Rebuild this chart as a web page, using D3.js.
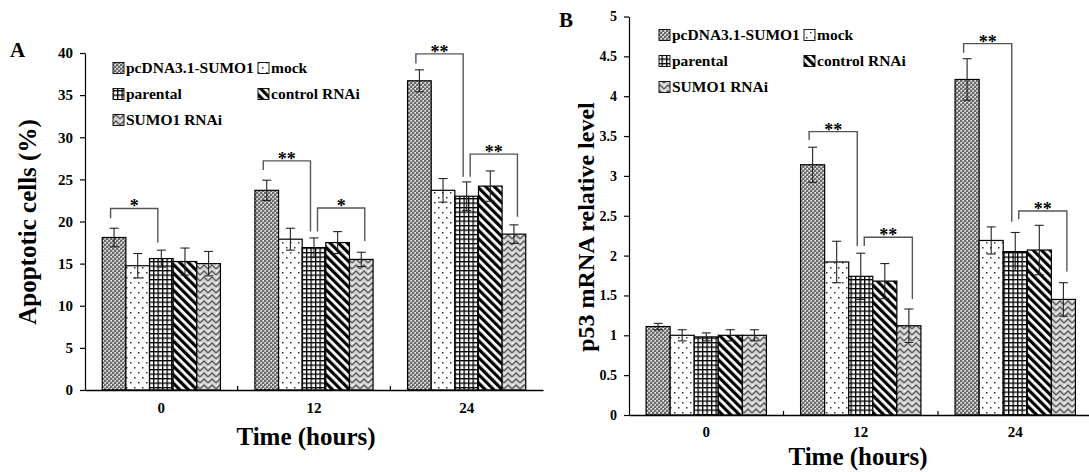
<!DOCTYPE html>
<html>
<head>
<meta charset="utf-8">
<script src="https://cdn.jsdelivr.net/npm/d3@7/dist/d3.min.js"></script>
<style>
  body { margin: 0; background: #fff; }
  svg text { font-family: "Liberation Serif", "Times New Roman", serif; font-weight: bold; }
</style>
</head>
<body>
<div id="chart"></div>
<script>
var groups = ["0", "12", "24"];
var series = ["pcDNA3.1-SUMO1", "mock", "parental", "control RNAi", "SUMO1 RNAi"];

// panel A, apoptotic cells (%) - one row per time point, one value per series
var apopt_mean = [
  [18.1, 14.75, 15.6, 15.25, 15.0],
  [23.7, 17.9, 16.9, 17.5, 15.5],
  [36.7, 23.7, 23.0, 24.2, 18.5]
];
var apopt_err = [
  [1.1, 1.45, 1.0, 1.6, 1.45],
  [1.2, 1.3, 1.15, 1.3, 0.85],
  [1.3, 1.4, 1.7, 1.8, 1.1]
];
// [group, from series, to series, bracket top, left leg end, right leg end, mark]
var apopt_sig = [
  [0, 0, 2, 21.55, 20.4, 17.5, "*"],
  [1, 0, 2, 27.2, 26.1, 18.8, "**"],
  [1, 2, 4, 21.6, 18.8, 17.7, "*"],
  [2, 0, 2, 39.9, 38.75, 25.3, "**"],
  [2, 2, 4, 28.0, 25.3, 20.55, "**"]
];
var apopt_ticks = [0, 5, 10, 15, 20, 25, 30, 35, 40];

// panel B, p53 mRNA relative level
var p53_mean = [
  [1.11, 1.0, 0.98, 1.0, 1.0],
  [3.14, 1.92, 1.74, 1.68, 1.12],
  [4.21, 2.19, 2.05, 2.07, 1.45]
];
var p53_err = [
  [0.04, 0.07, 0.05, 0.07, 0.07],
  [0.22, 0.26, 0.29, 0.22, 0.21],
  [0.26, 0.17, 0.24, 0.31, 0.21]
];
var p53_sig = [
  [1, 0, 2, 3.555, 3.45, 2.12, "**"],
  [1, 2, 4, 2.23, 2.12, 1.455, "**"],
  [2, 0, 2, 4.66, 4.545, 2.425, "**"],
  [2, 2, 4, 2.56, 2.455, 1.80, "**"]
];
var p53_ticks = [0, 0.5, 1, 1.5, 2, 2.5, 3, 3.5, 4, 4.5, 5];

var pattern_ids = ["pat-weave", "pat-dots", "pat-grid", "pat-stripe", "pat-zigzag"];

function add_patterns(defs)
{
  var p = defs.append("pattern").attr("id", "pat-weave")
    .attr("patternUnits", "userSpaceOnUse").attr("width", 4).attr("height", 4);
  p.append("rect").attr("width", 4).attr("height", 4).attr("fill", "#b4b4b4");
  p.append("rect").attr("x", 0).attr("y", 0).attr("width", 2).attr("height", 2).attr("fill", "#6a6a6a");
  p.append("rect").attr("x", 2).attr("y", 2).attr("width", 2).attr("height", 2).attr("fill", "#6a6a6a");
  p.append("rect").attr("x", 3).attr("y", 0).attr("width", 1).attr("height", 1).attr("fill", "#fff");
  p.append("rect").attr("x", 1).attr("y", 2).attr("width", 1).attr("height", 1).attr("fill", "#fff");

  p = defs.append("pattern").attr("id", "pat-dots")
    .attr("patternUnits", "userSpaceOnUse").attr("width", 8).attr("height", 10);
  p.append("rect").attr("width", 8).attr("height", 10).attr("fill", "#fff");
  p.append("rect").attr("x", 2).attr("y", 2).attr("width", 1.5).attr("height", 1.5).attr("fill", "#333");
  p.append("rect").attr("x", 6).attr("y", 7).attr("width", 1.5).attr("height", 1.5).attr("fill", "#333");

  p = defs.append("pattern").attr("id", "pat-grid")
    .attr("patternUnits", "userSpaceOnUse").attr("width", 4.5).attr("height", 4.5);
  p.append("rect").attr("width", 4.5).attr("height", 4.5).attr("fill", "#fff");
  p.append("rect").attr("width", 1.3).attr("height", 4.5).attr("fill", "#000");
  p.append("rect").attr("width", 4.5).attr("height", 1.3).attr("fill", "#000");

  p = defs.append("pattern").attr("id", "pat-stripe")
    .attr("patternUnits", "userSpaceOnUse").attr("width", 6).attr("height", 6)
    .attr("patternTransform", "rotate(-45)");
  p.append("rect").attr("width", 6).attr("height", 6).attr("fill", "#fff");
  p.append("rect").attr("width", 3.2).attr("height", 6).attr("fill", "#000");

  p = defs.append("pattern").attr("id", "pat-zigzag")
    .attr("patternUnits", "userSpaceOnUse").attr("width", 8).attr("height", 6);
  p.append("rect").attr("width", 8).attr("height", 6).attr("fill", "#d6d6d6");
  p.append("polyline").attr("points", "0,5 4,1 8,5").attr("fill", "none")
    .attr("stroke", "#5a5a5a").attr("stroke-width", 1.4);
  p.append("polyline").attr("points", "0,2 2,0").attr("fill", "none")
    .attr("stroke", "#fff").attr("stroke-width", 1);
}

function draw_panel(svg, cfg)
{
  var x = d3.scaleBand().domain(groups).range(cfg.xrange);
  var xs = d3.scaleBand().domain(series).range([0, x.bandwidth()])
    .paddingInner(0).paddingOuter(cfg.outer);
  var y = d3.scaleLinear().domain([0, cfg.ymax]).range(cfg.yrange);
  var g = svg.append("g");

  // bars
  cfg.mean.forEach(function(row, gi) {
    g.selectAll("rect.bar-" + gi)
      .data(row)
      .enter()
      .append("rect")
      .attr("x", function(d, i) { return x(groups[gi]) + xs(series[i]); })
      .attr("y", function(d) { return y(d); })
      .attr("width", xs.bandwidth())
      .attr("height", function(d) { return y(0) - y(d); })
      .attr("fill", function(d, i) { return "url(#" + pattern_ids[i] + ")"; })
      .attr("stroke", "#000")
      .attr("stroke-width", 1.2);
  });

  // error bars
  cfg.mean.forEach(function(row, gi) {
    row.forEach(function(v, i) {
      var cx = x(groups[gi]) + xs(series[i]) + xs.bandwidth() / 2;
      var e = cfg.err[gi][i];
      var eb = g.append("g").attr("stroke", "#222").attr("stroke-width", 1.1);
      eb.append("line").attr("x1", cx).attr("x2", cx).attr("y1", y(v - e)).attr("y2", y(v + e));
      eb.append("line").attr("x1", cx - 4.5).attr("x2", cx + 4.5).attr("y1", y(v - e)).attr("y2", y(v - e));
      eb.append("line").attr("x1", cx - 4.5).attr("x2", cx + 4.5).attr("y1", y(v + e)).attr("y2", y(v + e));
    });
  });

  // significance brackets
  cfg.sig.forEach(function(s) {
    var off = s[1] == 0 ? -3.5 : 3.5;
    var x1 = x(groups[s[0]]) + xs(series[s[1]]) + xs.bandwidth() / 2 + off;
    var x2 = x(groups[s[0]]) + xs(series[s[2]]) + xs.bandwidth() / 2 + off;
    g.append("path")
      .attr("d", "M" + x1 + "," + y(s[4]) + "V" + y(s[3]) + "H" + x2 + "V" + y(s[5]))
      .attr("fill", "none")
      .attr("stroke", "#555")
      .attr("stroke-width", 1.4);
    g.append("text")
      .attr("x", (x1 + x2) / 2)
      .attr("y", y(s[3]) + 4)
      .attr("text-anchor", "middle")
      .attr("font-size", 18)
      .text(s[6]);
  });

  // y axis
  var y_axis = d3.axisLeft(y).tickValues(cfg.ticks).tickSize(5).tickSizeOuter(0).tickPadding(7)
    .tickFormat(function(d) { return String(d); });
  var ya = svg.append("g")
    .attr("transform", "translate(" + cfg.xrange[0] + ",0)")
    .call(y_axis);
  ya.attr("font-family", null);
  ya.selectAll("text").attr("font-size", cfg.tickfont).attr("fill", "#000");
  ya.selectAll("line, path").attr("stroke", "#000").attr("stroke-width", 1.2);

  // x axis
  var x_axis = d3.axisBottom(x).tickSize(0).tickSizeOuter(0).tickPadding(cfg.xpad);
  var xa = svg.append("g")
    .attr("transform", "translate(0," + y(0) + ")")
    .call(x_axis);
  xa.attr("font-family", null);
  xa.selectAll("text").attr("font-size", 15).attr("fill", "#000");
  xa.select("path").attr("stroke", "#000").attr("stroke-width", 1.4);
  groups.slice(1).forEach(function(gr) {
    xa.append("line").attr("x1", x(gr)).attr("x2", x(gr)).attr("y1", 0).attr("y2", -4)
      .attr("stroke", "#000").attr("stroke-width", 1.2);
  });

  // titles
  svg.append("text")
    .attr("transform", "translate(" + cfg.ytitle[0] + "," + cfg.ytitle[1] + ") rotate(-90)")
    .attr("text-anchor", "middle")
    .attr("font-size", cfg.ytitlefont)
    .text(cfg.ylabel);
  svg.append("text")
    .attr("x", cfg.xtitle[0]).attr("y", cfg.xtitle[1])
    .attr("text-anchor", "middle")
    .attr("font-size", 25)
    .text("Time (hours)");
  svg.append("text")
    .attr("x", cfg.letter[0]).attr("y", cfg.letter[1])
    .attr("font-size", 21)
    .text(cfg.name);

  // legend, two columns
  series.forEach(function(s, i) {
    var lx = cfg.legx[i % 2];
    var ly = cfg.legy[Math.floor(i / 2)];
    svg.append("rect")
      .attr("x", lx).attr("y", ly - 5.5)
      .attr("width", 11).attr("height", 11)
      .attr("fill", "url(#" + pattern_ids[i] + ")")
      .attr("stroke", "#000").attr("stroke-width", 0.9);
    svg.append("text")
      .attr("x", lx + 13).attr("y", ly + 5)
      .attr("font-size", 15.5)
      .text(s);
  });
}

var svg = d3.select("#chart").append("svg").attr("width", 1089).attr("height", 472);
add_patterns(svg.append("defs"));

draw_panel(svg, {
  name: "A", mean: apopt_mean, err: apopt_err, sig: apopt_sig, ticks: apopt_ticks,
  ymax: 40, xrange: [85, 543], yrange: [390, 53], outer: 0.73, xpad: 12, tickfont: 15,
  ylabel: "Apoptotic cells (%)", ytitle: [36, 222], ytitlefont: 25,
  xtitle: [306, 445], letter: [10, 57],
  legx: [113, 258], legy: [68, 94, 120]
});

draw_panel(svg, {
  name: "B", mean: p53_mean, err: p53_err, sig: p53_sig, ticks: p53_ticks,
  ymax: 5, xrange: [629, 1092.5], yrange: [415, 16.5], outer: 0.71, xpad: 11, tickfont: 14,
  ylabel: "p53 mRNA relative level", ytitle: [594, 227], ytitlefont: 24,
  xtitle: [858, 465], letter: [559, 27],
  legx: [659, 804], legy: [35, 61, 87]
});
</script>
</body>
</html>
